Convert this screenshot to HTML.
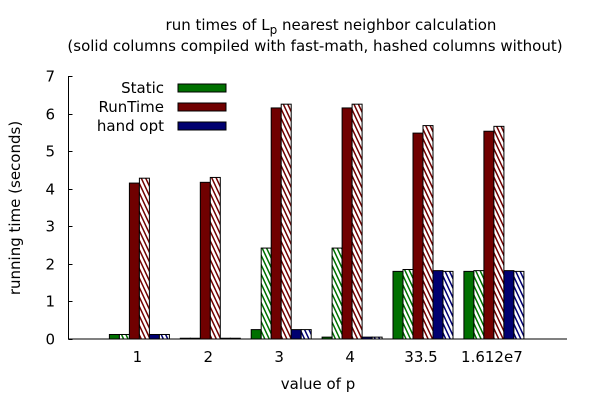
<!DOCTYPE html>
<html><head><meta charset="utf-8"><style>
body{margin:0;background:#fff}
svg text{font-family:"DejaVu Sans","Liberation Sans",sans-serif;fill:#000}
</style></head><body>
<svg width="600" height="400" viewBox="0 0 600 400">
<defs>
<pattern id="hg" width="4" height="4" patternUnits="userSpaceOnUse" patternTransform="rotate(-25)"><rect width="4" height="4" fill="#fff"/><rect width="1.5" height="4" fill="#007000"/></pattern>
<pattern id="hr" width="4" height="4" patternUnits="userSpaceOnUse" patternTransform="rotate(-25)"><rect width="4" height="4" fill="#fff"/><rect width="1.5" height="4" fill="#700000"/></pattern>
<pattern id="hb" width="4" height="4" patternUnits="userSpaceOnUse" patternTransform="rotate(-25)"><rect width="4" height="4" fill="#fff"/><rect width="1.5" height="4" fill="#000070"/></pattern>
</defs>
<text x="331" y="30" font-size="15" text-anchor="middle">run times of L<tspan font-size="12" dy="4">p</tspan><tspan dy="-4"> nearest neighbor calculation</tspan></text>
<text x="315" y="51" font-size="15" text-anchor="middle">(solid columns compiled with fast-math, hashed columns without)</text>
<text x="0" y="0" font-size="15" text-anchor="middle" transform="translate(20,208) rotate(-90)">running time (seconds)</text>
<text x="318" y="389" font-size="15" text-anchor="middle">value of p</text>
<g id="axes"></g>
<g id="bars"></g>
<g id="legend">
<text x="164" y="93" font-size="15" text-anchor="end">Static</text>
<rect x="178" y="84" width="48" height="8" fill="#007000" stroke="#000" stroke-width="1"/>
<text x="164" y="112" font-size="15" text-anchor="end">RunTime</text>
<rect x="178" y="103" width="48" height="8" fill="#700000" stroke="#000" stroke-width="1"/>
<text x="164" y="131" font-size="15" text-anchor="end">hand opt</text>
<rect x="178" y="122" width="48" height="8" fill="#000070" stroke="#000" stroke-width="1"/>
</g>
</svg>
<script>
const categories=["1","2","3","4","33.5","1.612e7"];
const staticFast=[0.12,0.02,0.25,0.05,1.8,1.8];
const staticNoFast=[0.12,0.02,2.42,2.42,1.85,1.82];
const runtimeFast=[4.15,4.17,6.15,6.15,5.48,5.53];
const runtimeNoFast=[4.28,4.3,6.25,6.25,5.68,5.66];
const handFast=[0.12,0.02,0.25,0.05,1.82,1.82];
const handNoFast=[0.12,0.02,0.25,0.05,1.8,1.8];
const yTicks=[0,1,2,3,4,5,6,7];
const NS="http://www.w3.org/2000/svg";
const x0=68.5,x1=567,y0=339,yTop=76,yMax=7;
function yS(v){return y0-(v/yMax)*(y0-yTop);}
function xC(i){return x0+70.9*(i+1);}
function mk(t,a,p){const e=document.createElementNS(NS,t);for(const k in a)e.setAttribute(k,a[k]);p.appendChild(e);return e;}
const ax=document.getElementById('axes');
const la=mk('path',{d:`M${x0} ${yTop}V${y0}H${x1}`,fill:'none',stroke:'#000','stroke-width':1},ax);


yTicks.forEach(v=>{
 const y=Math.round(yS(v))+0.5;
 const t=mk('line',{x1:x0,x2:x0+4,y1:y,y2:y,stroke:'#000'},ax);
 
 
 const l=mk('text',{x:55,y:y+5,'font-size':15,'text-anchor':'end'},ax);l.textContent=v;
 
 
});
categories.forEach((c,i)=>{
 const l=mk('text',{x:xC(i)-2,y:362,'font-size':15,'text-anchor':'middle'},ax);l.textContent=c;
 
 
});
const series=[[staticFast,'#007000','static-fast'],[staticNoFast,'url(#hg)','static-nofast'],[runtimeFast,'#700000','runtime-fast'],[runtimeNoFast,'url(#hr)','runtime-nofast'],[handFast,'#000070','hand-opt-fast'],[handNoFast,'url(#hb)','hand-opt-nofast']];
const bg=document.getElementById('bars');
categories.forEach((c,i)=>{
 series.forEach((s,j)=>{
  const v=s[0][i];const y=yS(v);
  const r=mk('rect',{x:xC(i)-30+j*10,y:y,width:10,height:Math.max(0.5,y0-y),fill:s[1],stroke:'#000','stroke-width':1},bg);
  
  
 });
});
</script>
</body></html>
